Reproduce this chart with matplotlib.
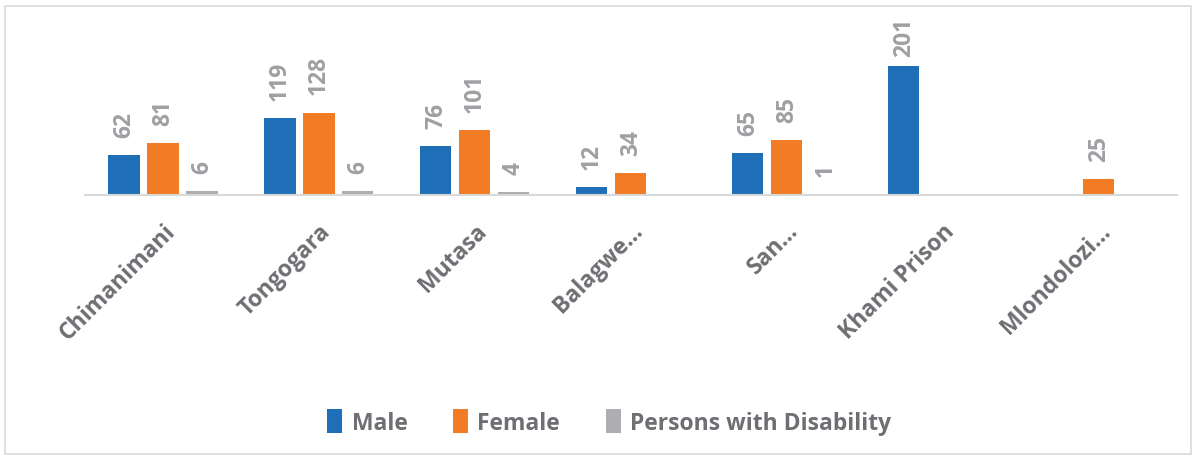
import matplotlib
import numpy as np

matplotlib.use("Agg")
import matplotlib.pyplot as plt
from matplotlib.patches import Rectangle

categories = ["Chimanimani", "Tongogara", "Mutasa", "Balagwe…", "San…",
              "Khami Prison", "Mlondolozi…"]
male = [62, 119, 76, 12, 65, 201, np.nan]
female = [81, 128, 101, 34, 85, np.nan, 25]
disability = [6, 6, 4, np.nan, 1, np.nan, np.nan]
series = ["Male", "Female", "Persons with Disability"]
colors = ["#1f6eb8", "#f27b25", "#aeaeb2"]

fig = plt.figure(figsize=(11.97, 4.6), dpi=100)
ax = fig.add_axes([0.071, 0.574, 0.912, 0.35])
fig.patches.append(Rectangle((0.004, 0.01), 0.991, 0.975, transform=fig.transFigure,
                             fill=False, edgecolor="#d9d9d9", lw=1.2))

x = np.arange(len(categories))
w = 0.2
for i, (vals, name, c) in enumerate(zip([male, female, disability], series, colors)):
    pos = x + (i - 1) * 0.25
    ax.bar(pos, vals, width=w, color=c, label=name)
    for p, v in zip(pos, vals):
        if np.isnan(v):
            continue
        # 201 sits close to the top of the plot area, so its gap is smaller
        off = 7 if v > 180 else 13
        ax.annotate(f"{v:g}", (p, v), xytext=(0, off), textcoords="offset points",
                    rotation=90, ha="center", va="bottom", fontsize=16.5,
                    fontweight="bold", color="#a0a0a4", family="Open Sans")

ax.set_xlim(-0.5, len(categories) - 0.5)
ax.set_ylim(0, 250)
for s in ["top", "right", "left"]:
    ax.spines[s].set_visible(False)
ax.spines["bottom"].set_color("#d9d9d9")
ax.spines["bottom"].set_linewidth(1.5)
ax.set_yticks([])
ax.set_xticks(x)
ax.set_xticklabels(categories, rotation=45, ha="right", rotation_mode="anchor",
                   fontsize=16.5, fontweight="bold", color="#6e6e73", family="Open Sans")
ax.tick_params(axis="x", length=0, pad=17)

fig.legend(loc="center", bbox_to_anchor=(0.509, 0.08), ncol=3, frameon=False,
           prop={"family": "Open Sans", "weight": "bold", "size": 16.5},
           labelcolor="#6e6e73", handlelength=0.65, handleheight=1.2,
           handletextpad=0.4, columnspacing=2.0)

fig.savefig("out.png", dpi=100)
